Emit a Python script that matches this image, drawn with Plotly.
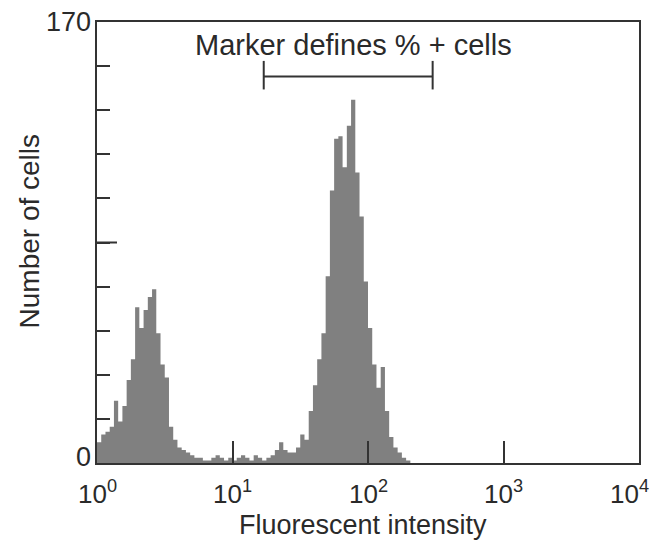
import plotly.graph_objects as go

# histogram: 128 channels spanning 4 log decades (10^0 .. 10^4)
channels_per_decade = 32
counts = [
    8, 11, 12, 14, 24, 16, 22, 32, 40, 60,
    52, 59, 64, 67, 50, 38, 33, 14, 9, 6,
    5, 4, 3, 2, 2, 1, 1, 2, 3, 2,
    1, 2, 1, 2, 3, 2, 1, 3, 2, 1,
    2, 3, 5, 8, 5, 4, 4, 6, 11, 9,
    20, 30, 40, 50, 72, 105, 125, 126, 114, 130,
    140, 112, 95, 70, 52, 38, 29, 37, 20, 10,
    6, 4, 2, 1, 0, 0, 0, 0, 0, 0,
]
n_channels = 128
counts = counts + [0] * (n_channels - len(counts))

y_tick_vals = [0, 17, 34, 51, 68, 85, 102, 119, 136, 153, 170]
y_label_vals = [0, 170]
y_label_text = ["0", "170"]
x_tick_vals = [1, 10, 100, 1000, 10000]
x_tick_exps = [0, 1, 2, 3, 4]
x_tick_text = ["10<sup>0</sup>", "10<sup>1</sup>", "10<sup>2</sup>", "10<sup>3</sup>", "10<sup>4</sup>"]

gate_low, gate_high, gate_level = 17, 300, 149
gate_cap_low, gate_cap_high = 144, 155
annotation_text = "Marker defines % + cells"
x_title = "Fluorescent intensity"
y_title = "Number of cells"

# bin edges (x) for a step plot
edges = [10 ** (i / channels_per_decade) for i in range(n_channels + 1)]
xs = edges
ys = counts + [counts[-1]]

FONT = "Liberation Sans, Arial, sans-serif"
TXT = "#2a2a2a"
AX = "#333333"
# page body has an 8px default margin: compensate in figure size / margins
W, H = 655, 535
ML, MR, MT, MB = 89, 24, 14, 80
PLOT_W = W - ML - MR

fig = go.Figure()
fig.add_trace(go.Scatter(
    x=xs, y=ys, mode="lines", line=dict(shape="hv", width=0, color="#808080"),
    fill="tozeroy", fillcolor="#808080", hoverinfo="skip", showlegend=False,
))

# gate marker
fig.add_trace(go.Scatter(
    x=[gate_low, gate_high], y=[gate_level, gate_level], mode="lines",
    line=dict(color=AX, width=2), showlegend=False, hoverinfo="skip"))
for gx in (gate_low, gate_high):
    fig.add_trace(go.Scatter(
        x=[gx, gx], y=[gate_cap_low, gate_cap_high], mode="lines",
        line=dict(color=AX, width=2), showlegend=False, hoverinfo="skip"))

fig.add_annotation(
    x=0.474, y=0.947, xref="paper", yref="paper", text=annotation_text,
    showarrow=False, font=dict(family=FONT, size=29, color=TXT),
    xanchor="center", yanchor="middle")

# y labels (only ends) as annotations
for v, t in zip(y_label_vals, y_label_text):
    fig.add_annotation(
        x=0, y=v, xref="paper", yref="y", text=t, showarrow=False,
        xanchor="right", yanchor="middle", xshift=-4,
        yshift=6 if v == 0 else 0,
        font=dict(family=FONT, size=27, color=TXT))

# x tick labels as annotations (log axis: annotation x is the exponent)
for e, t in zip(x_tick_exps, x_tick_text):
    fig.add_annotation(
        x=e, y=0, xref="x", yref="paper", text=t, showarrow=False,
        xanchor="center", yanchor="middle", yshift=-29,
        xshift=-10 if e == 4 else 0,
        font=dict(family=FONT, size=26, color=TXT))

# axis titles
fig.add_annotation(
    x=0.49, y=0, xref="paper", yref="paper", text=x_title, showarrow=False,
    xanchor="center", yanchor="middle", yshift=-62,
    font=dict(family=FONT, size=27, color=TXT))
fig.add_annotation(
    x=0, y=0.525, xref="paper", yref="paper", text=y_title, showarrow=False,
    textangle=-90, xanchor="center", yanchor="middle", xshift=-68,
    font=dict(family=FONT, size=28, color=TXT))

# longer middle tick on y axis
fig.add_shape(type="line", xref="paper", yref="y", x0=0, x1=20 / PLOT_W,
              y0=85, y1=85, line=dict(color=AX, width=2))

fig.update_layout(
    width=W, height=H,
    margin=dict(l=ML, r=MR, t=MT, b=MB),
    paper_bgcolor="white", plot_bgcolor="white",
    font=dict(family=FONT, size=22, color=TXT),
    xaxis=dict(
        type="log", range=[0, 4], tickvals=x_tick_vals, showticklabels=False,
        ticks="inside", ticklen=22, tickwidth=2, tickcolor=AX,
        showline=True, linecolor=AX, linewidth=2, mirror=True,
        showgrid=False, zeroline=False, automargin=False,
    ),
    yaxis=dict(
        range=[0, 170], tickvals=y_tick_vals, showticklabels=False,
        ticks="inside", ticklen=13, tickwidth=2, tickcolor=AX,
        showline=True, linecolor=AX, linewidth=2, mirror=True,
        showgrid=False, zeroline=False, automargin=False,
    ),
)

fig.write_html("out.html")
